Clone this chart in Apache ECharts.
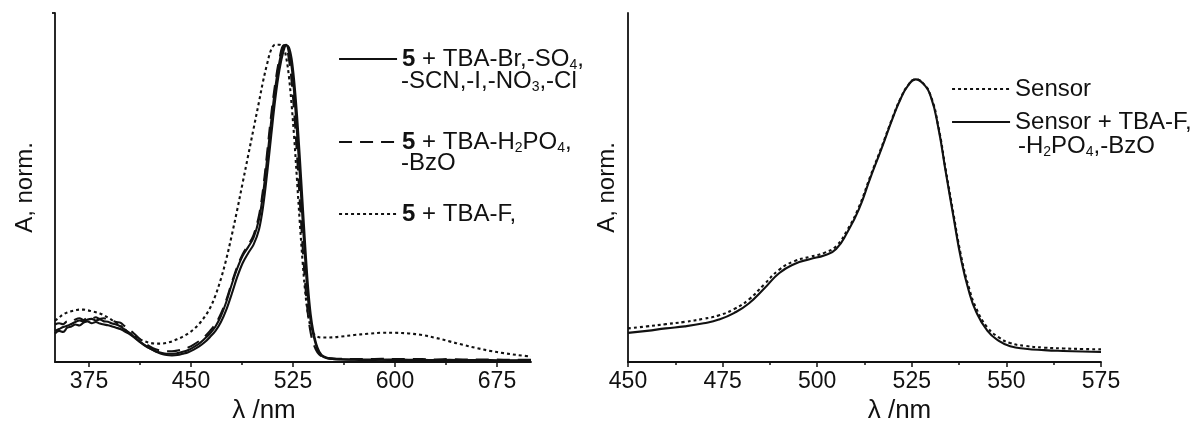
<!DOCTYPE html>
<html>
<head>
<meta charset="utf-8">
<title>Normalised absorption spectra</title>
<script src="https://cdn.jsdelivr.net/npm/echarts@6/dist/echarts.min.js"></script>
<style>
  html, body { margin: 0; padding: 0; background: #fff; }
  #chart { width: 1195px; height: 430px; }
</style>
</head>
<body>
<div id="chart"></div>
<script>
// ---- Left panel: compound 5 with TBA salts (wavelength, nm) ----
const L_NM = [350,353,356,359,362,365,368,371,374,377,380,383,386,389,392,395,398,401,404,
  408,412,416,420,424,428,432,436,440,444,448,452,456,460,464,468,472,476,480,484,488,492,496,500,
  503,506,509,512,515,518,520,522,524,526,528,530,532,534,536,538,540,543,546,550,555,560,
  570,580,590,600,610,620,630,640,650,660,670,680,690,700];

// 5 + TBA-Br, -SO4, -SCN, -I, -NO3, -Cl (two nearly coincident traces)
const L_SOLID_A = [0.090,0.098,0.095,0.108,0.112,0.118,0.115,0.124,0.128,0.122,0.126,0.121,0.118,0.116,0.112,0.108,0.104,
  0.097,0.090,
  0.078,0.064,0.052,0.042,0.034,0.029,0.026,0.026,0.028,0.032,0.038,0.047,0.058,0.073,0.090,0.112,0.145,0.190,0.245,0.295,0.335,0.362,0.392,0.450,
  0.530,0.640,0.760,0.865,0.945,0.995,
  1.000,0.975,0.930,0.840,0.720,0.590,0.450,0.320,0.200,0.130,0.085,
  0.040,0.020,0.012,0.009,0.008,
  0.007,0.006,0.007,0.006,0.006,0.005,0.006,0.005,0.005,0.005,0.004,0.004,0.004,0.004];
const L_SOLID_B = [0.098,0.104,0.110,0.114,0.120,0.126,0.131,0.128,0.134,0.136,0.131,0.134,0.128,0.127,0.121,0.118,0.112,
  0.103,0.094,
  0.080,0.066,0.053,0.042,0.033,0.026,0.022,0.021,0.022,0.026,0.031,0.039,0.049,0.062,0.079,0.098,0.126,0.165,0.215,0.268,0.312,0.343,0.370,0.418,
  0.490,0.595,0.715,0.830,0.920,0.980,
  0.998,0.992,0.955,0.880,0.775,0.645,0.505,0.365,0.240,0.150,0.095,
  0.045,0.022,0.013,0.010,0.009,
  0.008,0.008,0.007,0.008,0.007,0.007,0.006,0.007,0.006,0.006,0.006,0.005,0.005,0.005];
// 5 + TBA-H2PO4, -BzO
const L_DASHED = [0.118,0.122,0.119,0.128,0.126,0.134,0.138,0.132,0.140,0.137,0.141,0.136,0.138,0.133,0.130,0.126,0.124,
  0.114,0.104,
  0.090,0.074,0.060,0.048,0.040,0.036,0.034,0.034,0.036,0.040,0.046,0.055,0.066,0.080,0.098,0.120,0.152,0.196,0.250,0.300,0.340,0.368,0.400,0.462,
  0.545,0.660,0.780,0.880,0.955,0.998,
  0.992,0.955,0.885,0.780,0.650,0.510,0.370,0.245,0.150,0.092,0.058,
  0.030,0.018,0.013,0.011,0.010,
  0.009,0.009,0.010,0.009,0.009,0.009,0.008,0.009,0.008,0.008,0.008,0.007,0.007,0.007];
// 5 + TBA-F
const L_DOTTED = [0.130,0.140,0.150,0.156,0.160,0.163,0.165,0.165,0.163,0.160,0.157,0.153,0.147,0.140,0.132,0.124,0.115,
  0.104,0.094,
  0.082,0.072,0.065,0.060,0.058,0.058,0.060,0.065,0.072,0.080,0.090,0.103,0.120,0.142,0.170,0.210,0.262,0.325,0.400,0.480,0.565,0.650,0.735,0.820,
  0.885,0.940,0.985,1.000,1.000,0.990,
  0.960,0.900,0.810,0.700,0.570,0.440,0.320,0.220,0.150,0.110,0.090,
  0.080,0.077,0.077,0.078,0.080,
  0.085,0.089,0.092,0.092,0.090,0.085,0.076,0.065,0.054,0.044,0.035,0.028,0.022,0.017];

const L_MAJOR_TICKS = [375, 450, 525, 600, 675];
const L_MINOR_TICKS = [412.5, 487.5, 562.5, 637.5];

// ---- Right panel: sensor alone and with anions ----
const R_NM = [450,455,460,465,470,474,478,482,486,490,494,498,502,505,508,511,514,517,520,
  522,524,526,528,530,532,534,536,538,540,542,545,548,551,555,560,565,570,575];
const R_SENSOR = [0.119,0.126,0.134,0.142,0.153,0.165,0.187,0.222,0.275,0.327,0.357,0.372,0.387,0.410,0.468,0.548,0.656,0.760,0.868,
  0.932,0.979,1.000,0.986,0.942,0.835,0.678,0.525,0.377,0.268,0.191,0.122,0.087,0.067,0.057,0.051,0.048,0.046,0.045];
const R_SENSOR_ANIONS = [0.103,0.110,0.119,0.126,0.137,0.150,0.173,0.208,0.260,0.315,0.347,0.364,0.378,0.400,0.460,0.540,0.650,0.755,0.865,
  0.930,0.978,1.000,0.985,0.940,0.830,0.670,0.515,0.365,0.255,0.178,0.110,0.075,0.056,0.047,0.042,0.039,0.037,0.036];

// ---- Legend labels ----
const NAME_L1 = '5 + TBA-Br,-SO4,';
const NAME_L2 = '5 + TBA-H2PO4,';
const NAME_L3 = '5 + TBA-F,';
const NAME_R1 = 'Sensor';
const NAME_R2 = 'Sensor + TBA-F,';

const FONT = '"Liberation Sans", Arial, Helvetica, sans-serif';
const INK = '#111';
const LINE_W = 2.1;

const RICH = {
  t: { fontFamily: FONT, fontSize: 24, lineHeight: 26, color: INK },
  b: { fontFamily: FONT, fontSize: 24, lineHeight: 26, color: INK, fontWeight: 'bold' },
  s: { fontFamily: FONT, fontSize: 14, lineHeight: 12, color: INK, verticalAlign: 'bottom' }
};

const LEGEND_RICH_TEXT = {
  [NAME_L1]: '{b|5}{t| + TBA-Br,-SO}{s|4}{t|,}',
  [NAME_L2]: '{b|5}{t| + TBA-H}{s|2}{t|PO}{s|4}{t|,}',
  [NAME_L3]: '{b|5}{t| + TBA-F,}',
  [NAME_R1]: '{t|Sensor}',
  [NAME_R2]: '{t|Sensor + TBA-F,}'
};

function pairs(xs, ys) { return xs.map((x, i) => [x, ys[i]]); }

function curve(name, xs, ys, axis, type, smooth) {
  return {
    type: 'line', name: name,
    xAxisIndex: axis.x, yAxisIndex: axis.y,
    data: pairs(xs, ys),
    symbol: 'none', smooth: smooth,
    itemStyle: { color: INK },
    lineStyle: { color: INK, width: LINE_W, type: type },
    emphasis: { disabled: true },
    z: 3
  };
}

const DASH = [13, 8];
const DOT = [3, 3];

function legendFor(name, left, centerY, type) {
  return {
    data: [name], left: left, top: centerY - 13, padding: 0,
    itemWidth: 58, itemHeight: 14, selectedMode: false,
    itemStyle: { opacity: 0, borderWidth: 0 },
    lineStyle: { color: INK, width: LINE_W, type: type, opacity: 1 },
    formatter: n => LEGEND_RICH_TEXT[n],
    textStyle: { rich: RICH, fontFamily: FONT, fontSize: 24, color: INK }
  };
}

function noteText(text, left, centerY) {
  return { type: 'text', left: left, top: centerY - 13, z: 10,
           style: { text: text, rich: RICH, fill: INK, font: '24px ' + FONT } };
}

const axisLine = { show: true, lineStyle: { color: INK, width: 1.8 } };
const xLabel = { fontFamily: FONT, fontSize: 23, color: INK, margin: 8 };
const xName = (pad) => ({ fontFamily: FONT, fontSize: 26, color: INK, padding: pad });
const yName = { fontFamily: FONT, fontSize: 24, color: INK };

const option = {
  animation: false,
  backgroundColor: '#fff',
  grid: [
    { left: 55, top: 13, width: 476, height: 349 },
    { left: 628, top: 13, width: 473, height: 349 }
  ],
  xAxis: [
    { gridIndex: 0, type: 'value', min: 350, max: 700, position: 'bottom',
      axisLine: axisLine,
      axisTick: { show: true, customValues: L_MAJOR_TICKS, length: 5, inside: false, lineStyle: { color: INK, width: 1.5 } },
      axisLabel: Object.assign({ customValues: L_MAJOR_TICKS }, xLabel),
      splitLine: { show: false },
      name: 'λ /nm', nameLocation: 'middle', nameGap: 35, nameTextStyle: xName([0, 58, 0, 0]) },
    { gridIndex: 0, type: 'value', min: 350, max: 700, position: 'bottom',
      axisLine: { show: false },
      axisTick: { show: true, customValues: L_MINOR_TICKS, length: 3, inside: false, lineStyle: { color: INK, width: 1.5 } },
      axisLabel: { show: false }, splitLine: { show: false } },
    { gridIndex: 1, type: 'value', min: 450, max: 575, interval: 25, position: 'bottom',
      axisLine: axisLine,
      axisTick: { show: true, length: 5, inside: false, lineStyle: { color: INK, width: 1.5 } },
      minorTick: { show: true, splitNumber: 2, length: 3, lineStyle: { color: INK, width: 1.5 } },
      axisLabel: xLabel,
      splitLine: { show: false }, minorSplitLine: { show: false },
      name: 'λ /nm', nameLocation: 'middle', nameGap: 35, nameTextStyle: xName([0, 0, 0, 70]) }
  ],
  yAxis: [
    { gridIndex: 0, type: 'value', min: 0, max: 1.1,
      axisLine: axisLine,
      axisTick: { show: true, customValues: [1.1], length: 3, inside: false, lineStyle: { color: INK, width: 1.8 } },
      axisLabel: { show: false }, splitLine: { show: false },
      name: 'A, norm.', nameLocation: 'middle', nameGap: 18, nameTextStyle: yName },
    { gridIndex: 1, type: 'value', min: 0, max: 1.235,
      axisLine: axisLine, axisTick: { show: false },
      axisLabel: { show: false }, splitLine: { show: false },
      name: 'A, norm.', nameLocation: 'middle', nameGap: 9, nameTextStyle: yName }
  ],
  legend: [
    legendFor(NAME_L1, 338, 60, 'solid'),
    legendFor(NAME_L2, 338, 143, DASH),
    legendFor(NAME_L3, 338, 215, DOT),
    legendFor(NAME_R1, 951, 90, DOT),
    legendFor(NAME_R2, 951, 123, 'solid')
  ],
  graphic: [
    noteText('{t|-SCN,-I,-NO}{s|3}{t|,-Cl}', 401, 82),
    noteText('{t|-BzO}', 401, 164),
    noteText('{t|-H}{s|2}{t|PO}{s|4}{t|,-BzO}', 1018, 147)
  ],
  series: [
    curve(NAME_L3, L_NM, L_DOTTED, { x: 0, y: 0 }, DOT, 0.35),
    curve(NAME_L2, L_NM, L_DASHED, { x: 0, y: 0 }, DASH, 0.35),
    curve(NAME_L1, L_NM, L_SOLID_A, { x: 0, y: 0 }, 'solid', 0.35),
    curve(NAME_L1, L_NM, L_SOLID_B, { x: 0, y: 0 }, 'solid', 0.35),
    curve(NAME_R1, R_NM, R_SENSOR, { x: 2, y: 1 }, DOT, 0.5),
    curve(NAME_R2, R_NM, R_SENSOR_ANIONS, { x: 2, y: 1 }, 'solid', 0.5)
  ]
};

const chart = echarts.init(document.getElementById('chart'), null, { renderer: 'canvas' });
chart.setOption(option);
</script>
</body>
</html>
